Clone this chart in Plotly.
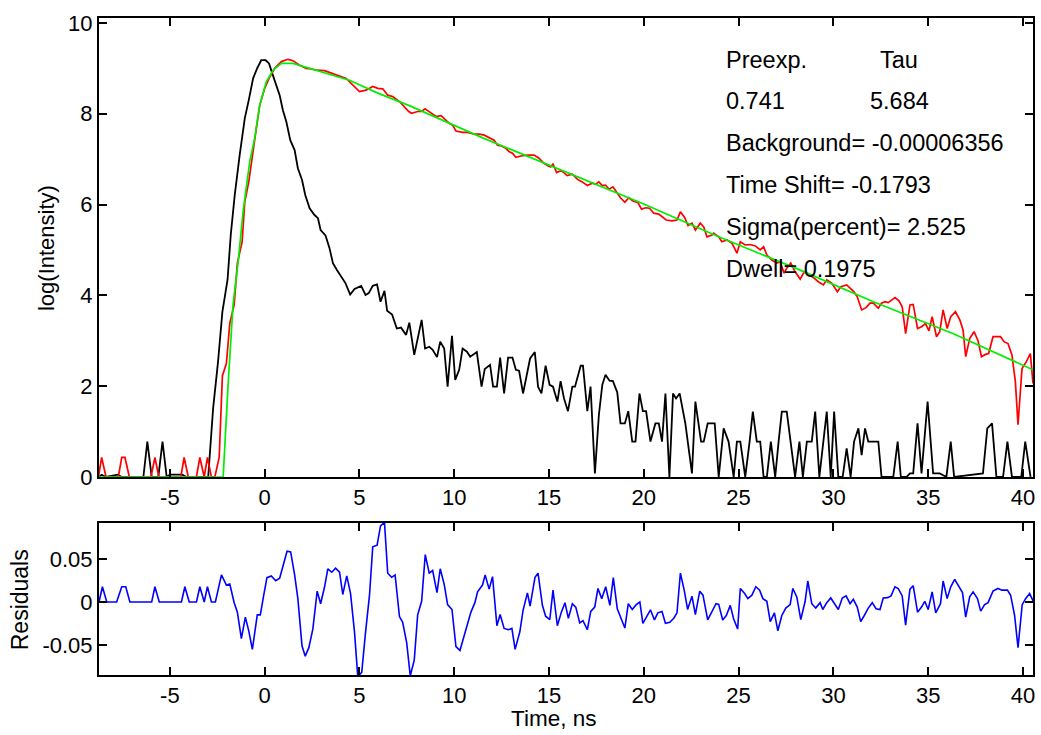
import plotly.graph_objects as go

# ---------------- data ----------------
# Instrument response (black)
irf_t = [-8.74, -8.60, -8.37, -7.75, -7.54, -6.40, -6.19, -5.96, -5.61, -5.39,
         -5.17, -5.00, -4.74, -4.35, -4.12, -2.98, -2.72, -2.46, -2.23, -1.96,
         -1.79, -1.58, -1.32, -1.05, -0.84, -0.61, -0.40, -0.18, 0.05, 0.23,
         0.40, 0.58, 0.79, 0.96, 1.14, 1.35, 1.58, 1.75, 1.97, 2.14,
         2.37, 2.63, 2.81, 2.95, 3.21, 3.42, 3.60, 3.81, 4.04, 4.26,
         4.51, 4.74, 5.09, 5.32, 5.49, 5.70, 5.93, 6.11, 6.32, 6.46,
         6.72, 6.97, 7.19, 7.46, 7.63,
         7.89, 8.28, 8.46, 8.68, 8.86, 9.09, 9.26, 9.47, 9.65, 9.88,
         10.05, 10.26, 10.44, 10.67, 10.84, 11.19, 11.44, 11.61, 11.89, 12.05,
         12.25, 12.42, 12.63, 12.84, 13.07, 13.25, 13.42, 13.63, 13.82, 14.00,
         14.25, 14.42, 14.60, 14.82, 15.03, 15.21, 15.44, 15.61,
         15.79, 16.00, 16.23, 16.37, 16.67, 16.79, 17.02, 17.19, 17.42, 17.63,
         17.81, 17.98, 18.19, 18.37, 18.60, 18.77, 19.00, 19.18, 19.39, 19.56,
         19.77, 19.95, 20.12, 20.35, 20.61, 20.79, 20.96, 21.14, 21.35, 21.54,
         21.70, 21.89, 22.19, 22.54, 22.72, 23.02, 23.16, 23.37, 23.74,
         23.95, 24.21, 24.47, 24.74, 24.91, 25.09, 25.35, 25.58, 25.75, 25.96,
         26.14, 26.32, 26.49, 26.70, 26.93, 27.11, 27.28, 27.54, 27.75, 27.98,
         28.21, 28.39, 28.60, 28.86, 29.04, 29.26, 29.47, 29.65, 29.86, 30.04,
         30.26, 30.49, 30.70, 30.91, 31.09, 31.32, 31.49, 31.67, 31.84,
         32.05, 32.37, 32.54, 32.89, 33.16, 33.39, 33.56, 33.86, 34.04, 34.21,
         34.44, 34.65, 34.97, 35.26, 35.61, 35.96, 36.19, 36.37, 37.89, 38.12,
         38.37, 38.60, 38.95, 39.18, 39.42, 39.91, 40.12, 40.40]
irf_v = [0, 0.05, 0, 0.05, 0, 0, 0.78, 0, 0, 0.78,
         0, 0.05, 0.05, 0.05, 0, 0, 1.51, 2.54, 3.64, 4.34,
         5.33, 6.21, 7.09, 7.90, 8.30, 8.78, 9.00, 9.18, 9.18, 9.11,
         8.89, 8.67, 8.41, 8.08, 7.83, 7.42, 7.20, 6.80, 6.54, 6.21,
         5.92, 5.77, 5.70, 5.44, 5.32, 5.04, 4.71, 4.56, 4.41, 4.27,
         4.02, 4.14, 4.21, 4.01, 4.05, 4.21, 4.24, 3.86, 4.10, 3.66,
         3.58, 3.27, 3.29, 3.13, 3.40,
         2.69, 3.46, 2.83, 2.87, 2.80, 2.64, 2.98, 2.83, 1.99, 3.11,
         2.14, 2.36, 2.83, 2.76, 2.65, 2.75, 1.99, 2.38, 2.47, 1.99,
         1.99, 2.63, 1.84, 2.63, 2.63, 2.36, 2.34, 1.84, 2.28, 2.61,
         2.75, 1.99, 1.84, 2.45, 2.03, 1.99, 1.66, 2.11,
         1.73, 1.45, 1.99, 1.99, 2.45, 2.45, 1.45, 1.99, 0.08, 1.37,
         2.03, 2.25, 2.12, 2.11, 1.86, 1.18, 1.18, 1.45, 0.78, 0.78,
         1.84, 1.45, 1.45, 0.78, 1.18, 1.18, 0.78, 1.84, 0, 1.84,
         1.73, 1.84, 1.18, 0.08, 1.66, 0.78, 0.78, 1.18, 1.18,
         0, 1.07, 0.78, 0, 0.78, 0.78, 0, 0.78, 1.44, 0.78,
         0.78, 0, 0, 0.78, 0, 0.78, 1.44, 1.44, 0.78, 0,
         0.78, 0, 0.78, 0.78, 1.44, 0, 0.78, 1.44, 0, 1.44,
         0, 0, 0.63, 0, 0.78, 1.07, 0.48, 1.07, 0.78,
         0.78, 0.78, 0, 0, 0, 0.78, 0, 0, 0.08, 0.08,
         1.18, 0.08, 1.66, 0.08, 0.08, 0, 0.78, 0, 0.08, 1.07,
         1.18, 0, 0, 0.78, 0, 0, 0.78, 0]

# Measured decay (red)
dec_t = [-8.77, -8.60, -8.37, -7.72, -7.54, -7.37, -7.14, -6.00, -5.79, -5.58,
         -4.42, -4.25, -4.03, -3.60, -3.42, -3.19, -3.02, -2.81, -2.63, -2.40,
         -2.23, -2.02, -1.84, -1.61, -1.44, -1.19, -1.05, -0.84, -0.53, -0.26,
         0.00, 0.23, 0.53, 0.88, 1.23, 1.49, 1.84, 2.19, 2.46, 2.72,
         3.16, 3.51, 3.95, 4.30, 4.56, 4.82, 5.00, 5.35, 5.70, 5.97,
         6.23, 6.49, 6.75, 7.11, 7.37, 7.60,
         7.75, 8.07, 8.28, 8.46, 8.77, 9.04, 9.30, 9.56, 9.74, 9.91,
         10.09, 10.44, 10.70, 11.05, 11.32, 11.58, 11.84, 12.10, 12.28, 12.49,
         12.72, 12.89, 13.07, 13.25, 13.51, 13.86, 14.21, 14.47, 14.70, 14.91,
         15.09, 15.21, 15.40, 15.61,
         15.70, 15.96, 16.23, 16.49, 16.75, 17.02, 17.28, 17.46, 17.63, 17.81,
         17.98, 18.16, 18.37, 18.60, 18.77, 19.00, 19.21, 19.42, 19.68, 19.88,
         20.09, 20.30, 20.53, 20.79, 21.00, 21.18, 21.49, 21.75, 21.93, 22.16,
         22.33, 22.54, 22.72, 22.98, 23.16, 23.33, 23.60,
         23.68, 23.95, 24.12, 24.39, 24.65, 24.91, 25.09, 25.35, 25.61, 25.88,
         26.14, 26.32, 26.49, 26.75, 27.02, 27.19, 27.40, 27.54, 27.75, 27.98,
         28.25, 28.46, 28.74, 28.98, 29.21, 29.47, 29.65, 29.91, 30.21, 30.39,
         30.70, 30.91, 31.09, 31.26, 31.49, 31.72, 31.93,
         32.11, 32.37, 32.54, 32.72, 32.89, 33.07, 33.25, 33.46, 33.63, 33.81,
         34.04, 34.21, 34.44, 34.65, 34.86, 35.04, 35.21, 35.44, 35.61, 35.79,
         36.00, 36.19, 36.44, 36.67, 36.84, 36.98, 37.19, 37.42, 37.63, 37.81,
         38.02, 38.19, 38.42, 38.65, 38.82, 39.00, 39.21, 39.42, 39.60, 39.74,
         39.95, 40.18, 40.39, 40.53]
dec_v = [0, 0.43, 0, 0, 0.43, 0.43, 0, 0, 0.43, 0,
         0, 0.43, 0, 0, 0.43, 0, 0.43, 0, 0, 0.43,
         2.23, 2.50, 3.39, 3.79, 4.71, 5.18, 6.06, 6.50, 7.42, 8.19,
         8.56, 8.78, 9.00, 9.15, 9.20, 9.17, 9.07, 9.00, 8.99, 8.96,
         8.95, 8.89, 8.83, 8.78, 8.67, 8.55, 8.49, 8.52, 8.60, 8.56,
         8.55, 8.41, 8.38, 8.27, 8.16, 8.05,
         8.01, 8.05, 8.05, 8.11, 8.02, 7.94, 7.96, 7.86, 7.79, 7.75,
         7.62, 7.59, 7.59, 7.55, 7.55, 7.53, 7.47, 7.42, 7.31, 7.29,
         7.24, 7.17, 7.13, 7.04, 7.07, 7.09, 7.09, 7.02, 6.92, 6.86,
         6.83, 6.89, 6.71, 6.74,
         6.73, 6.64, 6.67, 6.56, 6.50, 6.42, 6.47, 6.45, 6.50, 6.42,
         6.43, 6.34, 6.39, 6.25, 6.15, 6.05, 6.15, 6.08, 6.05, 5.90,
         5.93, 5.92, 5.81, 5.79, 5.73, 5.66, 5.64, 5.66, 5.84, 5.71,
         5.54, 5.59, 5.44, 5.59, 5.51, 5.29, 5.33,
         5.37, 5.29, 5.18, 5.22, 5.15, 4.93, 5.18, 5.11, 5.12, 5.09,
         5.00, 5.07, 4.89, 4.78, 4.71, 4.74, 4.49, 4.60, 4.71, 4.52,
         4.36, 4.52, 4.45, 4.38, 4.30, 4.23, 4.34, 4.27, 4.08, 4.19,
         4.23, 4.14, 4.08, 3.97, 3.68, 3.73, 3.83,
         3.83, 3.72, 3.83, 3.86, 3.84, 3.90, 3.95, 3.88, 3.75, 3.16,
         3.79, 3.80, 3.27, 3.31, 3.38, 3.22, 3.53, 3.09, 3.20, 3.68,
         3.27, 3.53, 3.64, 3.46, 3.24, 2.65, 3.05, 3.20, 3.00, 2.65,
         2.70, 2.72, 3.09, 3.09, 3.09, 2.98, 2.94, 2.69, 2.10, 1.15,
         2.39, 2.54, 2.72, 2.06]

# Fitted curve (green)
fit_t = [-8.74, -2.19, -1.93, -1.67, -1.40, -1.14, -0.79, -0.53, -0.26, 0.09,
         0.44, 0.88, 1.49, 2.37, 3.51, 4.47, 6.00, 7.63, 11.50, 15.79,
         19.90, 23.95, 28.00, 32.11, 36.30, 40.53]
fit_v = [0, 0, 2.03, 3.79, 4.74, 5.84, 6.94, 7.46, 8.19, 8.71,
         8.96, 9.11, 9.11, 9.00, 8.87, 8.74, 8.45, 8.18, 7.47, 6.73,
         6.03, 5.29, 4.60, 3.86, 3.16, 2.36]

# Residuals (blue)
res_t = [-8.74, -8.56, -8.33, -7.81, -7.54, -7.33, -7.11, -5.96, -5.79, -5.56,
         -4.39, -4.21, -3.98, -3.60, -3.42, -3.19, -3.02, -2.81, -2.60, -2.28,
         -2.02, -1.84, -1.61, -1.44, -1.23, -1.02, -0.84, -0.65, -0.39, -0.23,
         -0.05, 0.12, 0.35, 0.58, 0.79, 0.97, 1.18, 1.37, 1.58, 1.75,
         1.97, 2.14, 2.33, 2.54, 2.77, 2.95, 3.16, 3.33, 3.54, 3.74,
         3.95, 4.12, 4.33, 4.53, 4.74, 4.91, 5.12, 5.32, 5.53, 5.70,
         5.93, 6.11, 6.32, 6.49, 6.70, 6.88, 7.11, 7.28, 7.49, 7.68,
         7.89, 8.07, 8.28, 8.47, 8.68, 8.86, 9.09, 9.26, 9.47, 9.65,
         9.88, 10.09, 10.30, 10.47, 10.67, 10.88, 11.09, 11.23, 11.49, 11.63,
         11.84, 12.02, 12.25, 12.42, 12.63, 12.86, 13.04, 13.21, 13.46, 13.63,
         13.86, 14.00, 14.26, 14.42, 14.65, 14.82, 15.04, 15.21, 15.44, 15.65,
         15.84, 16.02,
         16.23, 16.41, 16.62, 16.79, 17.02, 17.20, 17.41, 17.58, 17.78, 17.99,
         18.21, 18.39, 18.60, 18.81, 19.00, 19.18, 19.39, 19.60, 19.79, 19.95,
         20.18, 20.35, 20.56, 20.74, 20.96, 21.14, 21.37, 21.58, 21.75, 21.93,
         22.14, 22.31, 22.54, 22.72, 22.95, 23.12, 23.37, 23.60, 23.81, 23.95,
         24.16, 24.35, 24.56, 24.74, 24.95, 25.09, 25.32, 25.49, 25.70, 25.91,
         26.11, 26.28, 26.49, 26.67, 26.89, 27.07, 27.28, 27.49, 27.72, 27.86,
         28.07, 28.28, 28.42,
         28.51, 28.65, 28.86, 29.07, 29.30, 29.44, 29.65, 29.86, 30.05, 30.26,
         30.47, 30.67, 30.88, 31.05, 31.26, 31.44, 31.63, 31.84, 32.05, 32.25,
         32.46, 32.63, 32.86, 33.04, 33.25, 33.42, 33.63, 33.81, 34.04, 34.21,
         34.44, 34.65, 34.82, 35.00, 35.21, 35.40, 35.65, 35.79, 36.00, 36.19,
         36.40, 36.61, 36.81, 36.98, 37.19, 37.37, 37.60, 37.77, 37.98, 38.16,
         38.42, 38.68, 38.89, 39.18, 39.35, 39.56, 39.74, 39.96, 40.14, 40.35,
         40.58]
res_v = [0, 0.0177, 0, 0, 0.0177, 0.0177, 0, 0, 0.0177, 0,
         0, 0.0177, 0, 0, 0.0177, 0, 0.0177, 0, 0, 0.0315,
         0.0197, 0.0209, -0.0008, -0.0118, -0.0425, -0.0177, -0.0335, -0.0551, -0.015, -0.015,
         0.0079, 0.0283, 0.0303, 0.0248, 0.0276, 0.0433, 0.059, 0.0583, 0.0315, 0.0039,
         -0.0512, -0.063, -0.0531, -0.0315, 0.0126, -0.002, 0.0177, 0.0386, 0.0346, 0.0394,
         0.0346, 0.0087, 0.0303, 0.0098, -0.0354, -0.0866, -0.0819, -0.0354, 0.0079, 0.0642,
         0.0661, 0.0886, 0.0925, 0.0335, 0.0287, 0.0315, -0.0169, -0.0236, -0.0472, -0.0858,
         -0.0677, -0.015, 0.0008, 0.0551, 0.0335, 0.0366, 0.011, 0.0386, 0.0205, -0.0031,
         -0.0087, -0.052, -0.0563, -0.0433, -0.0287, -0.0118, -0.0008, 0.0118, 0.0197, 0.0315,
         0.015, 0.0295, -0.0276, -0.0146, -0.0307, -0.0323, -0.0307, -0.0551, -0.0346, -0.0098,
         0.0106, -0.0047, 0.0287, 0.0335, -0.0039, -0.0165, -0.0205, 0.0138, -0.0276, -0.0118,
         -0.0008, -0.0189,
         -0.002, -0.0059, -0.0244, -0.0217, -0.0323, -0.011, -0.0059, 0.0157, 0.0039, 0.0177,
         -0.0039, 0.0283, -0.0079, -0.0189, -0.0303, -0.002, -0.0087, -0.0031, 0, -0.0248,
         -0.0157, -0.0091, -0.0209, -0.0126, -0.011, -0.0248, -0.0236, -0.0189, -0.0126, 0.0335,
         0.0126, -0.0087, 0.0067, -0.0146, 0.0126, 0.0079, -0.0209, -0.0118, -0.002, -0.0028,
         -0.0209, -0.0157, -0.0039, -0.0197, -0.0315, 0.0157, 0.0098, 0.0039, 0.0079, 0.0177,
         0.0138, 0.0039, 0.0008, -0.0228, -0.0126, -0.0335, -0.0157, -0.0071, -0.0031, 0.0157,
         0.0059, -0.0205, -0.0059,
         0.0008, 0.0244, -0.002, -0.0071, -0.0008, -0.0087, -0.0008, 0.0047, -0.002, -0.0087,
         0.0047, 0.0071, -0.002, 0.0031, -0.0059, -0.0228, -0.0157, -0.0071, -0.0008, -0.0079,
         -0.0087, 0.0047, 0.0051, 0.0071, 0.0177, 0.0157, 0.0071, -0.0268, 0.015, 0.0189,
         -0.0118, -0.0059, 0.0008, -0.0087, 0.0118, -0.0126, -0.002, 0.0244, 0.0039, 0.0177,
         0.0264, 0.0189, 0.011, -0.0177, 0.0059, 0.0118, 0.0039, -0.0106, -0.0031, -0.0008,
         0.0126, 0.0157, 0.0138, 0.0138, 0.0079, -0.0157, -0.0531, -0.0031, 0.0039, 0.0098,
         -0.0008]

assert len(irf_t) == len(irf_v)
assert len(dec_t) == len(dec_v)
assert len(fit_t) == len(fit_v)
assert len(res_t) == len(res_v)

x_ticks = [-5, 0, 5, 10, 15, 20, 25, 30, 35, 40]
x_ticktext = ["-5", "0", "5", "10", "15", "20", "25", "30", "35", "40"]
y_ticks = [0, 2, 4, 6, 8, 10]
r_ticks = [-0.05, 0, 0.05]
r_ticktext = ["-0.05", "0", "0.05"]

info_lines = ["0.741", "Background= -0.00006356", "Time Shift= -0.1793",
              "Sigma(percent)= 2.525", "Dwell= 0.1975"]

# ---------------- figure ----------------
FONT = "Liberation Sans, Arial, sans-serif"
fig = go.Figure()
fig.add_trace(go.Scatter(x=irf_t, y=irf_v, mode="lines",
                         line=dict(color="#000000", width=1.8),
                         xaxis="x", yaxis="y", showlegend=False))
fig.add_trace(go.Scatter(x=dec_t, y=dec_v, mode="lines",
                         line=dict(color="#ff0000", width=1.7),
                         xaxis="x", yaxis="y", showlegend=False))
fig.add_trace(go.Scatter(x=fit_t, y=fit_v, mode="lines",
                         line=dict(color="#00ee00", width=1.7),
                         xaxis="x", yaxis="y", showlegend=False))
fig.add_trace(go.Scatter(x=res_t, y=res_v, mode="lines",
                         line=dict(color="#0000ff", width=1.6),
                         xaxis="x2", yaxis="y2", showlegend=False))

axis_common = dict(showline=True, linecolor="black", linewidth=2, mirror="ticks",
                   ticks="inside", ticklen=8, tickwidth=1.5, tickcolor="black",
                   showgrid=False, zeroline=False,
                   tickfont=dict(family=FONT, size=22, color="black"))

top_dom = [0.3014, 1.0]
bot_dom = [0.0, 0.2314]

fig.update_layout(
    width=1041, height=735,
    margin=dict(l=99, r=6, t=18, b=60),
    paper_bgcolor="white", plot_bgcolor="white",
    font=dict(family=FONT, size=22, color="black"),
    xaxis=dict(domain=[0, 1], anchor="y", range=[-8.74, 40.53],
               tickvals=x_ticks, ticktext=x_ticktext, **axis_common),
    yaxis=dict(domain=top_dom, anchor="x", range=[0, 10.11],
               tickvals=y_ticks, **axis_common),
    xaxis2=dict(domain=[0, 1], anchor="y2", range=[-8.74, 40.53],
                tickvals=x_ticks, ticktext=x_ticktext, **axis_common),
    yaxis2=dict(domain=bot_dom, anchor="x2", range=[-0.0849, 0.0919],
                tickvals=r_ticks, ticktext=r_ticktext, **axis_common),
)

INFO_FONT = dict(family=FONT, size=23.5, color="black")
ann = []
# axis titles
ann.append(dict(text="log(Intensity)", xref="paper", yref="paper", x=-0.0556, y=0.65,
                textangle=-90, showarrow=False, xanchor="center", yanchor="middle"))
ann.append(dict(text="Residuals", xref="paper", yref="paper", x=-0.0844, y=0.114,
                textangle=-90, showarrow=False, xanchor="center", yanchor="middle",
                font=dict(family=FONT, size=23, color="black")))
ann.append(dict(text="Time, ns", xref="paper", yref="paper", x=0.487, y=-0.066,
                showarrow=False, xanchor="center", yanchor="middle",
                font=dict(family=FONT, size=22.5, color="black")))
# fit info text
ann.append(dict(text="Preexp.", xref="paper", yref="paper", x=0.669, y=0.936,
                showarrow=False, xanchor="left", yanchor="middle", font=INFO_FONT))
ann.append(dict(text="Tau", xref="paper", yref="paper", x=0.8345, y=0.936,
                showarrow=False, xanchor="left", yanchor="middle", font=INFO_FONT))
ann.append(dict(text="5.684", xref="paper", yref="paper", x=0.8238, y=0.8737,
                showarrow=False, xanchor="left", yanchor="middle", font=INFO_FONT))
ys = [0.8737, 0.8097, 0.7458, 0.6819, 0.6180]
for txt, yy in zip(info_lines, ys):
    ann.append(dict(text=txt, xref="paper", yref="paper", x=0.669, y=yy,
                    showarrow=False, xanchor="left", yanchor="middle", font=INFO_FONT))
fig.update_layout(annotations=ann)

fig.write_html("out.html")
